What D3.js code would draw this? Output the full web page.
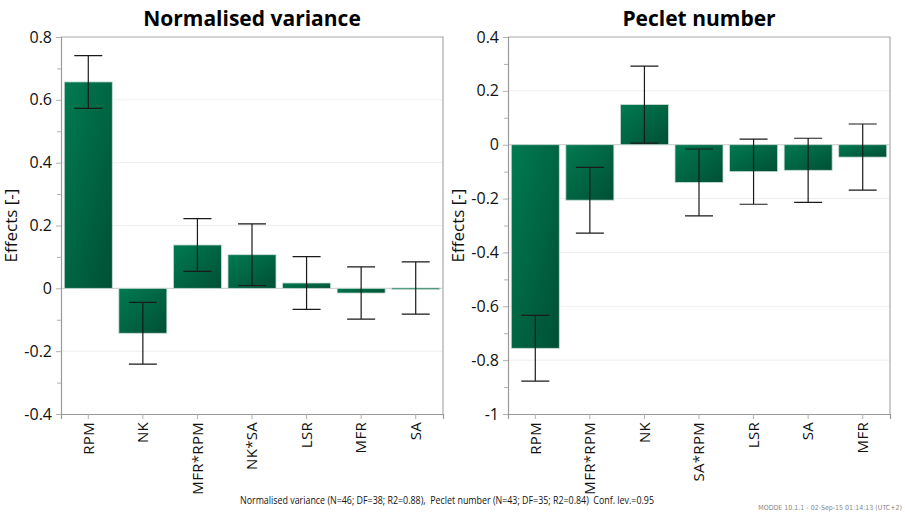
<!DOCTYPE html>
<html>
<head>
<meta charset="utf-8">
<script src="https://cdn.jsdelivr.net/npm/d3@7"></script>
<style>
  html, body { margin: 0; padding: 0; background: #fff; }
  svg { display: block; }
  text { font-family: "Open Sans", "Noto Sans", sans-serif; }
</style>
</head>
<body>
<svg id="chart" width="905" height="515"></svg>
<script>
// Coefficient plots: effects with 95 % confidence intervals
const nvTerms = ["RPM", "NK", "MFR*RPM", "NK*SA", "LSR", "MFR", "SA"];
const nvEffects = [0.657, -0.143, 0.138, 0.107, 0.017, -0.015, 0.001];
const nvConf = [0.084, 0.098, 0.084, 0.098, 0.084, 0.083, 0.083];
const nvTicks = [-0.4, -0.2, 0, 0.2, 0.4, 0.6, 0.8];

const peTerms = ["RPM", "MFR*RPM", "NK", "SA*RPM", "LSR", "SA", "MFR"];
const peEffects = [-0.756, -0.206, 0.149, -0.140, -0.100, -0.095, -0.046];
const peConf = [0.122, 0.122, 0.143, 0.124, 0.121, 0.119, 0.123];
const peTicks = [-1, -0.8, -0.6, -0.4, -0.2, 0, 0.2, 0.4];

const svg = d3.select("#chart");

const defs = svg.append("defs");
const grad = defs.append("linearGradient")
  .attr("id", "barFill")
  .attr("x1", 0).attr("y1", 0).attr("x2", 1).attr("y2", 1);
grad.append("stop").attr("offset", "0%").attr("stop-color", "#007b51");
grad.append("stop").attr("offset", "100%").attr("stop-color", "#004f34");

// plain hyphen for negatives, no trailing zeros
const fmt = v => (Math.abs(v) < 1e-9 ? "0" : String(+v.toFixed(1)));

function panel(opts) {
  const { x0, x1, y0, y1, title, terms, effects, conf, ticks } = opts;
  const g = svg.append("g");

  const x = d3.scaleBand().domain(terms).range([x0, x1]).paddingInner(0.12).paddingOuter(0.06);
  const y = d3.scaleLinear().domain([d3.min(ticks), d3.max(ticks)]).range([y1, y0]);

  // minor tick values halfway between major ticks
  const minor = ticks.slice(1).map((t, i) => (t + ticks[i]) / 2);

  // light gridlines at major ticks
  g.append("g").selectAll("line").data(ticks.filter(t => t !== 0 && t !== d3.min(ticks) && t !== d3.max(ticks)))
    .join("line")
    .attr("x1", x0).attr("x2", x1)
    .attr("y1", d => y(d)).attr("y2", d => y(d))
    .attr("stroke", "#eeeeee").attr("stroke-width", 1);

  // plot frame (top and right edges)
  g.append("path")
    .attr("d", `M${x0},${y0}H${x1}V${y1}`)
    .attr("fill", "none").attr("stroke", "#aaaaaa").attr("stroke-width", 1.2);

  // zero line
  g.append("line")
    .attr("x1", x0).attr("x2", x1).attr("y1", y(0)).attr("y2", y(0))
    .attr("stroke", "#c8c8c8").attr("stroke-width", 1);

  // y axis
  const yAxis = d3.axisLeft(y).tickValues(ticks).tickSize(5).tickPadding(4).tickFormat(fmt);
  const ya = g.append("g").attr("transform", `translate(${x0},0)`).call(yAxis);
  ya.select(".domain").attr("stroke", "#999999").attr("stroke-width", 1.2);
  ya.selectAll(".tick line").attr("stroke", "#b0b0b0");
  ya.selectAll(".tick text").attr("font-size", 16).attr("fill", "#111")
    .style("font-family", "'Open Sans', sans-serif");
  const yMinor = d3.axisLeft(y).tickValues(minor).tickSize(4).tickFormat("");
  const ym = g.append("g").attr("transform", `translate(${x0},0)`).call(yMinor);
  ym.select(".domain").remove();
  ym.selectAll(".tick line").attr("stroke", "#b0b0b0");

  // x axis
  const xAxis = d3.axisBottom(x).tickSize(5).tickPadding(4);
  const xa = g.append("g").attr("transform", `translate(0,${y1})`).call(xAxis);
  xa.select(".domain").attr("stroke", "#999999").attr("stroke-width", 1.2);
  xa.selectAll(".tick line").attr("stroke", "#b0b0b0");
  xa.selectAll(".tick text")
    .attr("font-size", 15).attr("fill", "#111")
    .attr("letter-spacing", 0.3)
    .attr("transform", "rotate(-90)")
    .attr("text-anchor", "end")
    .attr("x", -8).attr("y", 0).attr("dy", "0.35em")
    .style("font-family", "'Open Sans', sans-serif");

  // bars
  const data = terms.map((t, i) => ({ t, v: effects[i], c: conf[i] }));
  g.append("g").selectAll("rect").data(data).join("rect")
    .attr("x", d => x(d.t))
    .attr("width", x.bandwidth())
    .attr("y", d => y(Math.max(0, d.v)))
    .attr("height", d => Math.max(1.5, Math.abs(y(d.v) - y(0))))
    .attr("fill", "url(#barFill)")
    .attr("stroke", "#c9ddd2").attr("stroke-width", 0.8);

  // confidence intervals
  const cap = 14;
  const eb = g.append("g").attr("stroke", "#1a1a1a").attr("stroke-width", 1.2).attr("fill", "none");
  eb.selectAll("path").data(data).join("path")
    .attr("d", d => {
      const cx = x(d.t) + x.bandwidth() / 2;
      const ya_ = y(d.v + d.c), yb_ = y(d.v - d.c);
      return `M${cx - cap},${ya_}H${cx + cap}M${cx},${ya_}V${yb_}M${cx - cap},${yb_}H${cx + cap}`;
    });

  // title
  g.append("text")
    .attr("x", (x0 + x1) / 2).attr("y", 26)
    .attr("text-anchor", "middle")
    .attr("font-size", 21).attr("font-weight", "bold").attr("fill", "#000")
    .text(title);

  // y axis label
  g.append("text")
    .attr("transform", `translate(${x0 - 44},${(y0 + y1) / 2}) rotate(-90)`)
    .attr("text-anchor", "middle")
    .attr("font-size", 17).attr("fill", "#111")
    .text("Effects [-]");
}

panel({ x0: 61, x1: 443, y0: 37, y1: 414, title: "Normalised variance",
        terms: nvTerms, effects: nvEffects, conf: nvConf, ticks: nvTicks });
panel({ x0: 508, x1: 890, y0: 37, y1: 414, title: "Peclet number",
        terms: peTerms, effects: peEffects, conf: peConf, ticks: peTicks });

// footnote with model statistics
svg.append("text")
  .attr("x", 447).attr("y", 504)
  .attr("text-anchor", "middle")
  .attr("font-size", 10).attr("fill", "#111")
  .style("font-family", "'Liberation Sans Narrow', 'Open Sans', sans-serif")
  .style("white-space", "pre")
  .attr("textLength", 414).attr("lengthAdjust", "spacingAndGlyphs")
  .text("Normalised variance (N=46; DF=38; R2=0.88),  Peclet number (N=43; DF=35; R2=0.84)  Conf. lev.=0.95");

// software stamp, bottom right
svg.append("text")
  .attr("x", 902).attr("y", 510)
  .attr("text-anchor", "end")
  .attr("font-size", 7).attr("fill", "#888")
  .style("font-family", "'DejaVu Sans Condensed', 'Liberation Sans Narrow', sans-serif")
  .text("MODDE 10.1.1 - 02-Sep-15 01:14:13 (UTC+2)");
</script>
</body>
</html>
